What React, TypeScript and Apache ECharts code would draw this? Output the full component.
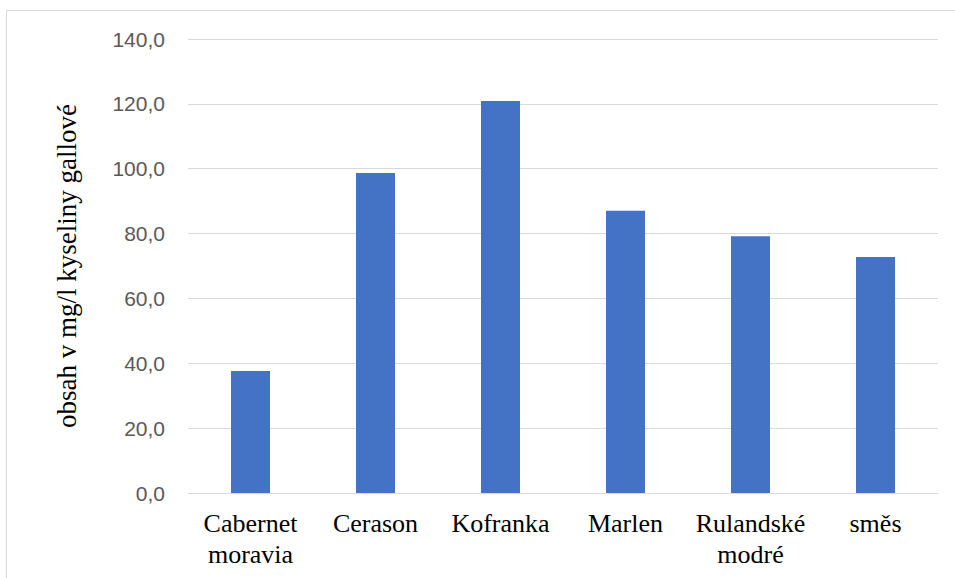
import React, { useEffect, useRef } from "react";
import * as echarts from "echarts";

const categories = ["Cabernet\nmoravia", "Cerason", "Kofranka", "Marlen", "Rulandské\nmodré", "směs"];
const values = [37.6, 98.7, 120.9, 87.0, 79.2, 72.8];
const axisTitle = "obsah v mg/l kyseliny gallové";

export default function App() {
  const ref = useRef<HTMLDivElement>(null);
  useEffect(() => {
    const chart = echarts.init(ref.current!, null, { renderer: "svg" });
    chart.setOption({
      animation: false,
      backgroundColor: "#ffffff",
      graphic: [
        {
          type: "rect",
          shape: { x: 6.5, y: 10.5, width: 1000, height: 700 },
          style: { fill: "none", stroke: "#d9d9d9", lineWidth: 1 },
          silent: true,
        },
      ],
      grid: { left: 188, right: 17, top: 39, bottom: 85 },
      xAxis: {
        type: "category",
        data: categories,
        axisLine: { show: true, lineStyle: { color: "#d9d9d9", width: 1 } },
        axisTick: { show: false },
        axisLabel: {
          color: "#000000",
          fontFamily: "Liberation Serif",
          fontWeight: "normal",
          fontSize: 26,
          lineHeight: 31,
          margin: 15,
          interval: 0,
        },
      },
      yAxis: {
        type: "value",
        min: 0,
        max: 140,
        interval: 20,
        name: axisTitle,
        nameLocation: "middle",
        nameGap: 108,
        nameRotate: 90,
        nameTextStyle: { color: "#000000", fontFamily: "Liberation Serif", fontSize: 27 },
        axisLine: { show: false },
        axisTick: { show: false },
        splitLine: { lineStyle: { color: "#d9d9d9", width: 1 } },
        axisLabel: {
          color: "#595959",
          fontFamily: "Liberation Sans",
          fontSize: 21,
          margin: 23,
          formatter: (v: number) => v.toFixed(1).replace(".", ","),
        },
      },
      series: [
        {
          type: "bar",
          data: values,
          barWidth: 39,
          itemStyle: { color: "#4472c4" },
        },
      ],
    });
    return () => chart.dispose();
  }, []);
  return (
    <div
      ref={ref}
      style={{ position: "fixed", left: 0, top: 0, width: 955, height: 578 }}
    />
  );
}
